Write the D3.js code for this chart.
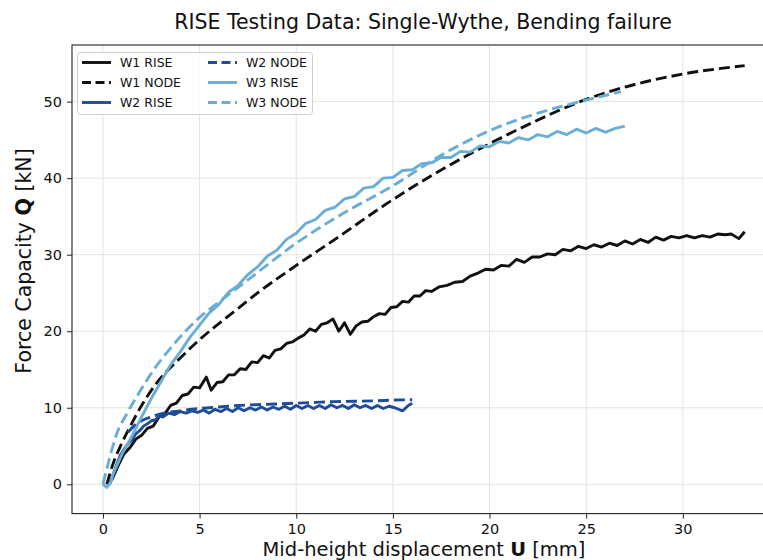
<!DOCTYPE html>
<html>
<head>
<meta charset="utf-8">
<script src="https://cdn.jsdelivr.net/npm/d3@7"></script>
<style>
  body { margin: 0; background: #fff; }
  text { font-family: "DejaVu Sans", sans-serif; fill: #111; }
</style>
</head>
<body>
<div id="chart"></div>
<script>
// data: [U (mm), Q (kN)]
var w1Rise = [[0.3,0],[0.5,0.8],[0.8,2.5],[1.1,4],[1.4,4.8],[1.7,5.9],[2.0,6.4],[2.3,7.3],[2.6,7.6],[2.9,8.8],[3.2,9.2],[3.5,10.3],[3.8,10.6],[4.1,11.6],[4.4,11.8],[4.7,12.7],[5.0,12.6],[5.35,14.0],[5.6,12.3],[5.9,13.3],[6.2,13.4],[6.5,14.3],[6.8,14.3],[7.1,15.1],[7.4,15.0],[7.7,16.0],[8.0,15.9],[8.3,16.8],[8.6,16.5],[8.9,17.5],[9.2,17.7],[9.5,18.4],[9.8,18.6],[10.1,19.1],[10.4,19.5],[10.7,20.3],[11.0,20.0],[11.3,20.9],[11.6,21.1],[11.9,21.6],[12.2,20.0],[12.5,21.1],[12.8,19.6],[13.1,20.7],[13.4,21.2],[13.7,21.3],[14.0,21.9],[14.3,22.3],[14.6,22.2],[14.9,23.1],[15.2,23.2],[15.5,23.9],[15.8,23.8],[16.1,24.6],[16.4,24.6],[16.7,25.3],[17.0,25.2],[17.4,25.8],[17.8,26.0],[18.2,26.4],[18.6,26.5],[19.0,27.2],[19.4,27.6],[19.8,28.1],[20.2,28.0],[20.6,28.6],[21.0,28.5],[21.4,29.4],[21.8,29.0],[22.2,29.7],[22.6,29.7],[23.0,30.1],[23.4,30.0],[23.8,30.7],[24.2,30.5],[24.6,31.1],[25.0,30.8],[25.4,31.3],[25.8,31.0],[26.2,31.5],[26.6,31.2],[27.0,31.8],[27.4,31.4],[27.8,32.0],[28.2,31.6],[28.6,32.3],[29.0,31.9],[29.4,32.4],[29.8,32.2],[30.2,32.5],[30.6,32.2],[31.0,32.5],[31.4,32.3],[31.8,32.7],[32.2,32.6],[32.5,32.7],[32.9,32.1],[33.2,33.0]];
var w1Node = [[0.2,0],[0.5,2.5],[1,5.5],[1.5,8],[2,10.3],[2.8,13.3],[4,16.5],[5,18.9],[6,21],[7,23],[8,25],[10,28.6],[12,32],[15,37.2],[18,41.8],[20,44.5],[22,47],[25,50.3],[27,51.9],[30,53.6],[33.2,54.7]];
var w2Rise = [[0.3,0],[0.5,1],[0.7,2.5],[0.9,3.8],[1.1,4.6],[1.3,5.3],[1.5,5.8],[1.7,6.6],[1.9,7.0],[2.1,7.6],[2.3,7.9],[2.5,8.3],[2.7,8.4],[2.9,8.9],[3.1,8.8],[3.4,9.3],[3.7,9.1],[4.0,9.5],[4.3,9.3],[4.6,9.6],[4.9,9.4],[5.2,9.7],[5.5,9.3],[5.8,9.8],[6.1,9.5],[6.4,9.9],[6.7,9.5],[7.0,10.0],[7.3,9.6],[7.6,10.0],[7.9,9.7],[8.2,10.1],[8.5,9.7],[8.8,10.1],[9.1,9.8],[9.4,10.2],[9.7,9.8],[10.0,10.3],[10.3,9.9],[10.6,10.3],[10.9,9.9],[11.2,10.3],[11.5,9.9],[11.8,10.4],[12.1,10.0],[12.4,10.3],[12.7,9.9],[13.0,10.4],[13.3,10.0],[13.6,10.3],[13.9,9.9],[14.2,10.3],[14.5,9.9],[14.8,10.2],[15.1,10.0],[15.5,9.6],[15.8,10.3],[16.0,10.6]];
var w2Node = [[1.3,6.8],[1.6,7.6],[2.0,8.3],[2.5,8.8],[3.0,9.2],[4,9.6],[5,9.9],[6,10.1],[7,10.3],[8,10.4],[9,10.5],[10,10.6],[11,10.7],[12,10.8],[13,10.85],[14,10.9],[15,11.0],[16,11.05]];
var w3Rise = [[0,0],[0.2,-0.4],[0.4,0.2],[0.5,1.2],[1,4],[1.5,6.3],[2,8.8],[2.5,11.2],[3,13.4],[3.5,15.6],[4,17.3],[4.5,19.2],[5,20.8],[5.5,22.4],[6,23.5],[6.5,25.1],[7,26.0],[7.5,27.4],[8,28.4],[8.5,29.8],[9,30.6],[9.5,32.0],[10,32.8],[10.5,34.1],[11,34.6],[11.5,35.8],[12,36.2],[12.5,37.3],[13,37.6],[13.5,38.7],[14,38.9],[14.5,40.0],[15,40.1],[15.5,41.0],[16,41.1],[16.5,41.9],[17,42.0],[17.5,42.7],[18,42.7],[18.5,43.5],[19,43.4],[19.5,44.2],[20,44.1],[20.5,44.8],[21,44.6],[21.5,45.3],[22,45.0],[22.5,45.7],[23,45.4],[23.5,46.1],[24,45.7],[24.5,46.4],[25,45.9],[25.5,46.5],[26,46.0],[26.5,46.5],[27,46.8]];
var w3Node = [[0,0],[0.3,3],[0.7,6.5],[1.3,9.5],[2,12.5],[2.5,14.5],[3.5,17.8],[5,21.8],[6,23.8],[7.5,26.7],[10,31.5],[12.5,35.5],[15,39],[17.5,43],[20,46.2],[22.5,48.5],[25,50.2],[26.8,51.3]];

var seriesNames = ["W1 RISE", "W1 NODE", "W2 RISE", "W2 NODE", "W3 RISE", "W3 NODE"];
var xTicks = [0, 5, 10, 15, 20, 25, 30];
var yTicks = [0, 10, 20, 30, 40, 50];

var W = 763, H = 560;
var plot = {left: 72, right: 776, top: 45, bottom: 513.6};

var svg = d3.select("#chart").append("svg")
  .attr("width", W).attr("height", H);

var x = d3.scaleLinear().domain([-1.6, 34.82]).range([plot.left, plot.right]);
var y = d3.scaleLinear().domain([-3.83, 57.4]).range([plot.bottom, plot.top]);

// grid
var grid = svg.append("g");
grid.selectAll(".gx").data(xTicks).enter().append("line")
  .attr("x1", d => x(d)).attr("x2", d => x(d))
  .attr("y1", plot.top).attr("y2", plot.bottom)
  .attr("stroke", "#e3e3e3").attr("stroke-width", 1);
grid.selectAll(".gy").data(yTicks).enter().append("line")
  .attr("x1", plot.left).attr("x2", plot.right)
  .attr("y1", d => y(d)).attr("y2", d => y(d))
  .attr("stroke", "#e3e3e3").attr("stroke-width", 1);

// series
svg.append("clipPath").attr("id", "clip").append("rect")
  .attr("x", plot.left).attr("y", plot.top)
  .attr("width", plot.right - plot.left).attr("height", plot.bottom - plot.top);

var styles = [
  {data: w1Rise, color: "#111111", dash: null, smooth: false},
  {data: w1Node, color: "#111111", dash: "11,5", smooth: true},
  {data: w2Rise, color: "#1f4c99", dash: null, smooth: false},
  {data: w2Node, color: "#1f4c99", dash: "11,5", smooth: true},
  {data: w3Rise, color: "#6aadd5", dash: null, smooth: false},
  {data: w3Node, color: "#6aadd5", dash: "11,5", smooth: true}
];

var lines = svg.append("g").attr("clip-path", "url(#clip)");
styles.forEach(function(s) {
  var line = d3.line()
    .x(d => x(d[0])).y(d => y(d[1]))
    .curve(s.smooth ? d3.curveMonotoneX : d3.curveLinear);
  lines.append("path")
    .attr("d", line(s.data))
    .attr("fill", "none")
    .attr("stroke", s.color)
    .attr("stroke-width", 2.9)
    .attr("stroke-linejoin", "round")
    .attr("stroke-dasharray", s.dash);
});

// axes
var xAxis = svg.append("g").attr("transform", "translate(0," + plot.bottom + ")")
  .call(d3.axisBottom(x).tickValues(xTicks).tickSize(5).tickPadding(5));
var yAxis = svg.append("g").attr("transform", "translate(" + plot.left + ",0)")
  .call(d3.axisLeft(y).tickValues(yTicks).tickSize(5).tickPadding(5));
[xAxis, yAxis].forEach(function(a) {
  a.select(".domain").remove();
  a.selectAll("line").attr("stroke", "#222");
  a.selectAll("text").style("font-size", "14.5px").style("font-family", "DejaVu Sans").attr("fill", "#222");
});

// frame
svg.append("rect")
  .attr("x", plot.left).attr("y", plot.top)
  .attr("width", plot.right - plot.left).attr("height", plot.bottom - plot.top)
  .attr("fill", "none").attr("stroke", "#222").attr("stroke-width", 1.1);

// title & labels
svg.append("text")
  .attr("x", 423).attr("y", 29)
  .attr("text-anchor", "middle").style("font-size", "20.5px")
  .text("RISE Testing Data: Single-Wythe, Bending failure");

var xl = svg.append("text")
  .attr("x", 424).attr("y", 556)
  .attr("text-anchor", "middle").style("font-size", "19.5px");
xl.append("tspan").text("Mid-height displacement ");
xl.append("tspan").attr("font-weight", "bold").text("U");
xl.append("tspan").text(" [mm]");

var yl = svg.append("text")
  .attr("transform", "translate(31,261) rotate(-90)")
  .attr("text-anchor", "middle").style("font-size", "20.5px");
yl.append("tspan").text("Force Capacity ");
yl.append("tspan").attr("font-weight", "bold").text("Q");
yl.append("tspan").text(" [kN]");

// legend
var lg = svg.append("g");
lg.append("rect")
  .attr("x", 77.5).attr("y", 52.5).attr("width", 235).attr("height", 62).attr("rx", 3)
  .attr("fill", "#fff").attr("fill-opacity", 0.85)
  .attr("stroke", "#d0d0d0").attr("stroke-width", 1);
styles.forEach(function(s, i) {
  var col = Math.floor(i / 3), row = i % 3;
  var x0 = col === 0 ? 82 : 208, yy = 62.5 + row * 20;
  lg.append("line")
    .attr("x1", x0).attr("x2", x0 + 29).attr("y1", yy).attr("y2", yy)
    .attr("stroke", s.color).attr("stroke-width", 2.9)
    .attr("stroke-dasharray", s.dash ? "9,4.5" : null);
  lg.append("text")
    .attr("x", x0 + 38).attr("y", yy + 4.5)
    .style("font-size", "12.5px")
    .text(seriesNames[i]);
});
</script>
</body>
</html>
